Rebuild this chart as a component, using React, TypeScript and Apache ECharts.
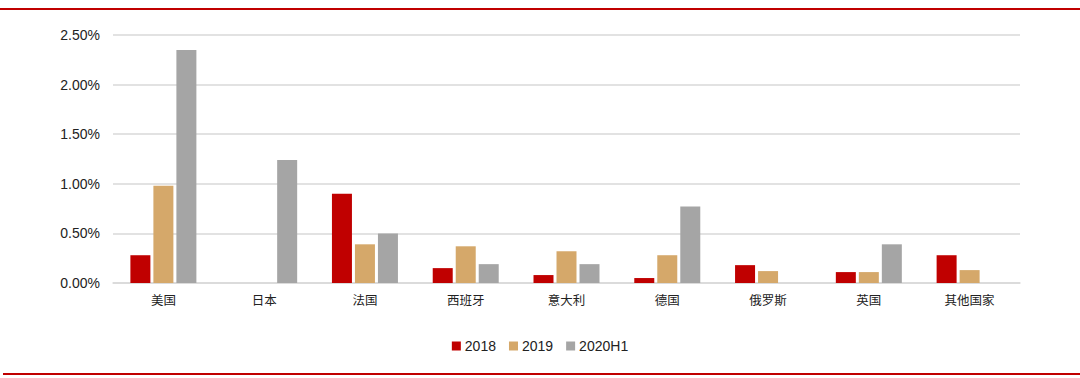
import React, { useEffect, useRef } from "react";
import * as echarts from "echarts";

const categories = ["美国", "日本", "法国", "西班牙", "意大利", "德国", "俄罗斯", "英国", "其他国家"];
const s2018: (number | null)[] = [0.28, null, 0.9, 0.15, 0.08, 0.05, 0.18, 0.11, 0.28];
const s2019: (number | null)[] = [0.98, null, 0.39, 0.37, 0.32, 0.28, 0.12, 0.11, 0.13];
const s2020H1: (number | null)[] = [2.35, 1.24, 0.5, 0.19, 0.19, 0.77, null, 0.39, null];
const seriesNames = ["2018", "2019", "2020H1"];
const colors = ["#C00000", "#D5A86A", "#A5A5A5"];

export default function App() {
  const ref = useRef<HTMLDivElement>(null);
  useEffect(() => {
    const chart = echarts.init(ref.current!, null, { renderer: "svg" });
    const data = [s2018, s2019, s2020H1];
    chart.setOption({
      animation: false,
      graphic: [
        { type: "rect", shape: { x: 0, y: 8, width: 1080, height: 2 }, style: { fill: "#C00000" } },
        { type: "rect", shape: { x: 3, y: 373, width: 1077, height: 2 }, style: { fill: "#C00000" } },
      ],
      grid: { left: 113, right: 60, top: 35, bottom: 95, containLabel: false },
      legend: {
        top: 334,
        left: "center",
        itemWidth: 9,
        itemHeight: 9,
        itemGap: 13,
        icon: "rect",
        textStyle: { fontFamily: "Liberation Sans, Arial", fontSize: 14, color: "#222", padding: [0, 0, 0, -1] },
        data: seriesNames,
      },
      xAxis: {
        type: "category",
        data: categories,
        axisTick: { show: false },
        axisLine: { lineStyle: { color: "#D9D9D9", width: 1.5 } },
        axisLabel: { fontFamily: "Noto Sans CJK SC", fontSize: 12.5, color: "#222", margin: 10 },
      },
      yAxis: {
        type: "value",
        min: 0,
        max: 2.5,
        interval: 0.5,
        axisLabel: {
          formatter: (v: number) => v.toFixed(2) + "%",
          fontFamily: "Liberation Sans, Arial",
          fontSize: 14,
          color: "#222",
          margin: 13,
        },
        splitLine: { lineStyle: { color: "#D9D9D9", width: 1.5 } },
        axisLine: { show: false },
        axisTick: { show: false },
      },
      series: seriesNames.map((name, i) => ({
        name,
        type: "bar",
        data: data[i],
        barWidth: 20,
        barGap: "15%",
        itemStyle: { color: colors[i] },
      })),
    });
    return () => chart.dispose();
  }, []);
  return <div ref={ref} style={{ width: 1080, height: 378, position: "absolute", left: 0, top: 0 }} />;
}
